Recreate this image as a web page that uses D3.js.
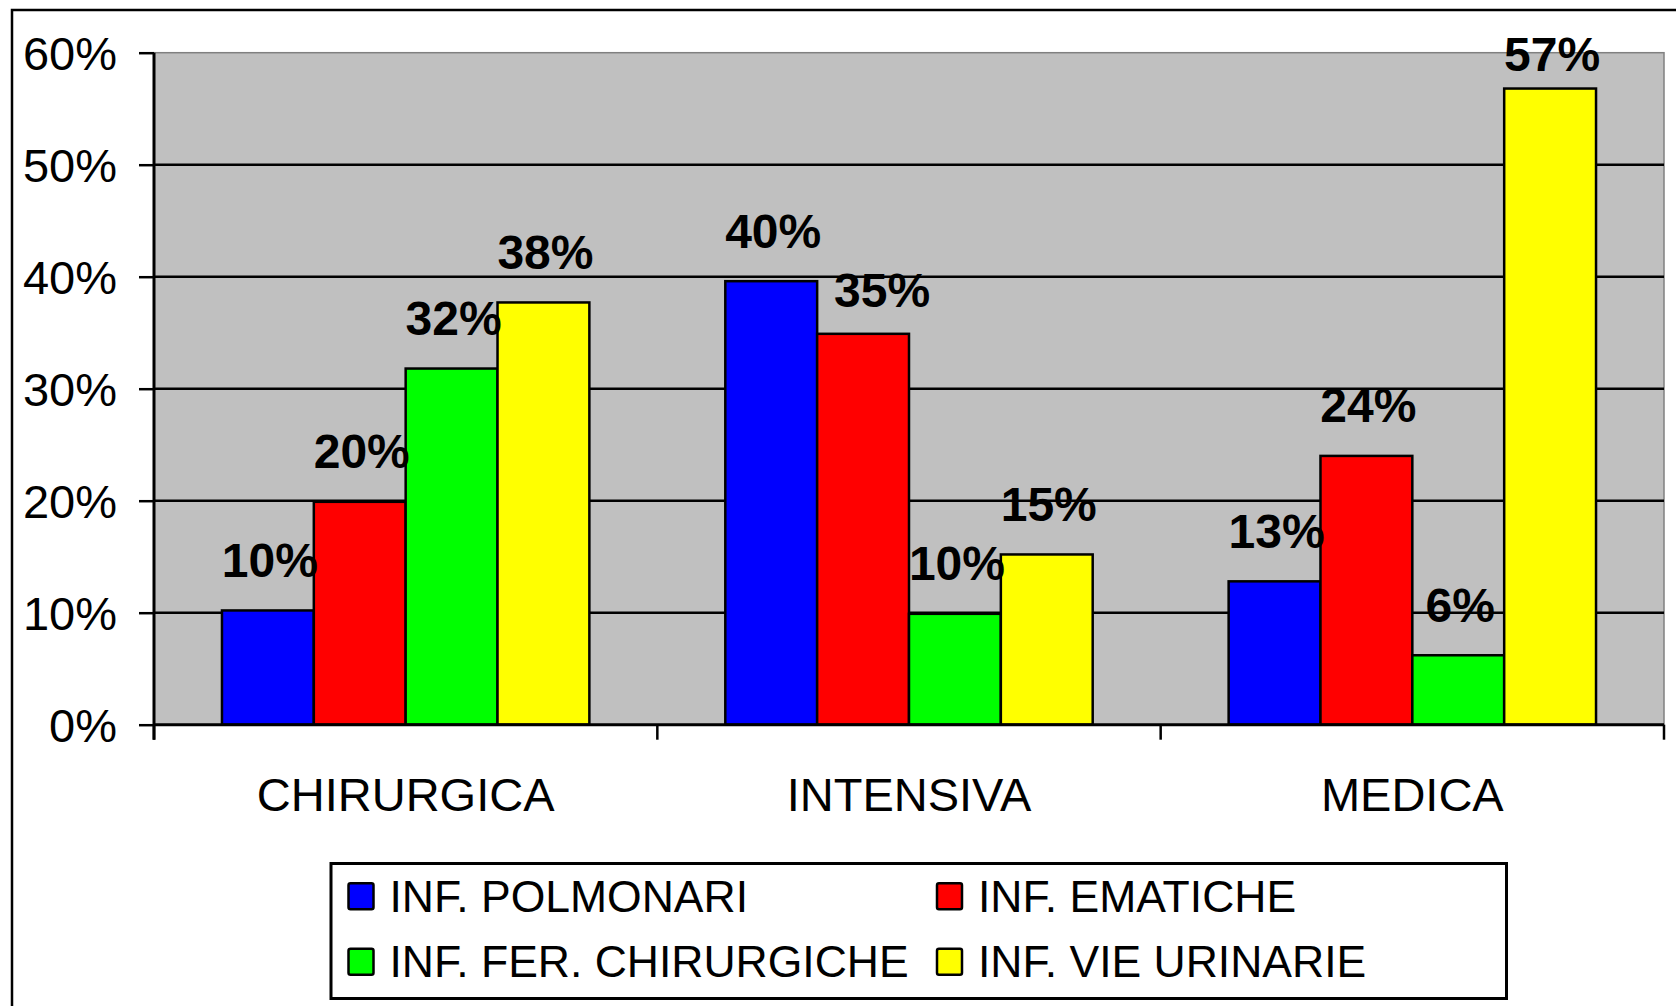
<!DOCTYPE html>
<html>
<head>
<meta charset="utf-8">
<script src="https://cdn.jsdelivr.net/npm/d3@7"></script>
<style>
  body { margin: 0; background: #fff; }
  svg { display: block; font-family: "Liberation Sans", Arial, sans-serif; }
</style>
</head>
<body>
<svg id="chart" width="1676" height="1006"></svg>
<script>
'use strict';

const categories = ['CHIRURGICA', 'INTENSIVA', 'MEDICA'];
const seriesNames = ['INF. POLMONARI', 'INF. EMATICHE', 'INF. FER. CHIRURGICHE', 'INF. VIE URINARIE'];
const seriesColors = ['#0000ff', '#ff0000', '#00ff00', '#ffff00'];
// values per series, in category order
const polmonari = [10.2, 39.6, 12.8];
const ematiche = [19.9, 34.9, 24.0];
const ferite = [31.8, 9.9, 6.2];
const urinarie = [37.7, 15.2, 56.8];
const yTicks = [0, 10, 20, 30, 40, 50, 60];

const seriesValues = [polmonari, ematiche, ferite, urinarie];

// labels that were dragged by hand in the original
const labelNudge = { 'INTENSIVA|INF. EMATICHE': [17, 7] };

const svg = d3.select('#chart');
const plotLeft = 154, plotRight = 1664, plotTop = 52.7, plotBottom = 724.7;

// outer chart border (runs off the right and bottom of the picture)
svg.append('path')
  .attr('d', 'M12,1010 L12,10 L1680,10')
  .attr('fill', 'none')
  .attr('stroke', '#000')
  .attr('stroke-width', 2.5);

const y = d3.scaleLinear().domain([0, 60]).range([plotBottom, plotTop]);
const x0 = d3.scaleBand().domain(categories).range([plotLeft, plotRight]).padding(0);
const x1 = d3.scaleBand().domain(seriesNames).range([0, x0.bandwidth()])
  .paddingInner(0).paddingOuter(0.74);

// plot area
svg.append('rect')
  .attr('x', plotLeft).attr('y', plotTop)
  .attr('width', plotRight - plotLeft).attr('height', plotBottom - plotTop)
  .attr('fill', '#c0c0c0')
  .attr('stroke', '#808080')
  .attr('stroke-width', 1.5);

// gridlines
svg.append('g')
  .selectAll('line')
  .data(yTicks.filter(t => t > 0 && t < 60))
  .join('line')
  .attr('x1', plotLeft).attr('x2', plotRight)
  .attr('y1', d => y(d)).attr('y2', d => y(d))
  .attr('stroke', '#000')
  .attr('stroke-width', 2.5);

// bars
const groups = svg.append('g')
  .selectAll('g')
  .data(categories)
  .join('g')
  .attr('transform', d => `translate(${x0(d)},0)`);

const cells = (c, ci) => seriesNames.map((s, si) => ({ c, s, si, v: seriesValues[si][ci] }));

groups.selectAll('rect')
  .data(cells)
  .join('rect')
  .attr('x', d => x1(d.s))
  .attr('y', d => y(d.v))
  .attr('width', x1.bandwidth())
  .attr('height', d => y(0) - y(d.v))
  .attr('fill', d => seriesColors[d.si])
  .attr('stroke', '#000')
  .attr('stroke-width', 2.5);

groups.selectAll('text')
  .data(cells)
  .join('text')
  .attr('x', d => {
    const n = labelNudge[d.c + '|' + d.s] || [0, 0];
    return x1(d.s) + x1.bandwidth() / 2 + 2 + n[0];
  })
  .attr('y', d => {
    const n = labelNudge[d.c + '|' + d.s] || [0, 0];
    return Math.max(y(d.v) - 33.5, 71) + n[1];
  })
  .attr('text-anchor', 'middle')
  .attr('font-size', 48)
  .attr('font-weight', 'bold')
  .text(d => Math.round(d.v) + '%');

// y axis
const yAxis = svg.append('g')
  .attr('transform', `translate(${plotLeft},0)`)
  .call(d3.axisLeft(y).tickValues(yTicks).tickSize(15).tickPadding(22)
    .tickFormat(d => d + '%'));
yAxis.select('.domain').remove();
yAxis.selectAll('line').attr('stroke', '#000').attr('stroke-width', 2.5);
yAxis.selectAll('text')
  .attr('font-size', 47)
  .attr('font-family', '"Liberation Sans", Arial, sans-serif')
  .attr('fill', '#000')
  .attr('dy', '0.35em');
svg.append('line')
  .attr('x1', plotLeft).attr('x2', plotLeft)
  .attr('y1', plotTop).attr('y2', plotBottom + 15)
  .attr('stroke', '#000').attr('stroke-width', 3);

// x axis
svg.append('line')
  .attr('x1', plotLeft).attr('x2', plotRight)
  .attr('y1', plotBottom).attr('y2', plotBottom)
  .attr('stroke', '#000').attr('stroke-width', 3);
svg.append('g')
  .selectAll('line')
  .data(categories.concat(['end']))
  .join('line')
  .attr('x1', (d, i) => plotLeft + i * x0.step())
  .attr('x2', (d, i) => plotLeft + i * x0.step())
  .attr('y1', plotBottom).attr('y2', plotBottom + 15)
  .attr('stroke', '#000').attr('stroke-width', 2.5);
svg.append('g')
  .selectAll('text')
  .data(categories)
  .join('text')
  .attr('x', d => x0(d) + x0.bandwidth() / 2)
  .attr('y', 811)
  .attr('text-anchor', 'middle')
  .attr('font-size', 47)
  .text(d => d);

// legend
const legend = svg.append('g');
legend.append('rect')
  .attr('x', 331).attr('y', 863.5)
  .attr('width', 1175.5).attr('height', 135)
  .attr('fill', '#fff')
  .attr('stroke', '#000')
  .attr('stroke-width', 3);

const colX = [348.5, 937];
const rowY = [911.7, 977.3];
const items = legend.selectAll('g.item')
  .data(seriesNames)
  .join('g')
  .attr('class', 'item')
  .attr('transform', (d, i) => `translate(${colX[i % 2]},${rowY[Math.floor(i / 2)]})`);
items.append('rect')
  .attr('x', 0).attr('y', -28.5)
  .attr('width', 25).attr('height', 26)
  .attr('rx', 2)
  .attr('fill', (d, i) => seriesColors[i])
  .attr('stroke', '#000')
  .attr('stroke-width', 2.5);
items.append('text')
  .attr('x', 41)
  .attr('font-size', 44.5)
  .text(d => d);
</script>
</body>
</html>
